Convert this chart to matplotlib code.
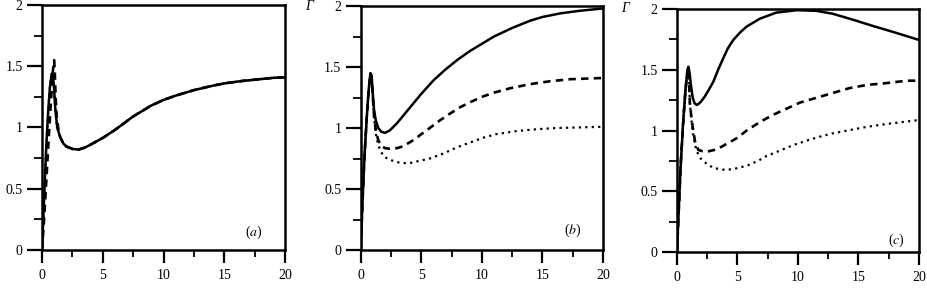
import matplotlib
matplotlib.use('Agg')
import matplotlib.pyplot as plt
from matplotlib.ticker import MultipleLocator

# ── Data ───────────────────────────────────────────────────────────────────────
# panel (a)
a_solid_x = [0, 0.1, 0.2, 0.35, 0.5, 0.65, 0.8, 0.9, 1.0, 1.1, 1.25, 1.5, 1.75, 2.0, 2.5,
             3.0, 3.5, 4.0, 5.0, 6.0, 7.5, 9.0, 10, 11, 12.5, 14, 15, 16.5, 17.5, 19, 20]
a_solid_y = [0, 0.25, 0.5, 0.85, 1.12, 1.33, 1.44, 1.43, 1.3, 1.14, 1.0, 0.92, 0.87, 0.845, 0.825,
             0.82, 0.835, 0.86, 0.915, 0.98, 1.09, 1.18, 1.225, 1.26, 1.305, 1.34, 1.36, 1.38, 1.39, 1.405, 1.41]
a_dash_x = [0, 0.2, 0.4, 0.6, 0.8, 0.9, 1.0, 1.05, 1.12, 1.2, 1.35, 1.5, 1.75, 2.0, 2.5,
            3.0, 3.5, 4.0, 5.0, 6.0, 7.5, 9.0, 10, 11, 12.5, 14, 15, 16.5, 17.5, 19, 20]
a_dash_y = [0, 0.3, 0.65, 1.0, 1.32, 1.47, 1.55, 1.45, 1.25, 1.1, 0.98, 0.92, 0.87, 0.845, 0.825,
            0.82, 0.835, 0.86, 0.915, 0.98, 1.09, 1.18, 1.225, 1.26, 1.305, 1.34, 1.36, 1.38, 1.39, 1.405, 1.41]
a_dot_x = a_solid_x
a_dot_y = a_solid_y

# panel (b)
b_solid_x = [0, 0.15, 0.3, 0.5, 0.65, 0.8, 0.9, 1.0, 1.1, 1.25, 1.45, 1.7, 2.0, 2.4, 3.0, 3.5,
             4.0, 4.5, 5.0, 6.0, 7.0, 8.0, 9.0, 10, 11, 12.5, 14, 15, 16.5, 18, 20]
b_solid_y = [0, 0.4, 0.75, 1.09, 1.3, 1.45, 1.43, 1.28, 1.15, 1.06, 1.0, 0.97, 0.96, 0.98, 1.04, 1.1,
             1.16, 1.22, 1.28, 1.39, 1.48, 1.56, 1.63, 1.69, 1.75, 1.82, 1.88, 1.91, 1.94, 1.96, 1.98]
b_dash_x = [0, 0.15, 0.3, 0.5, 0.65, 0.8, 0.9, 1.0, 1.1, 1.25, 1.45, 1.7, 2.0, 2.4, 3.0, 3.5,
            4.0, 4.5, 5.0, 5.7, 6.5, 7.4, 8.2, 9.0, 10, 11, 12.3, 14, 15.6, 17.3, 20]
b_dash_y = [0, 0.4, 0.75, 1.09, 1.3, 1.45, 1.42, 1.25, 1.1, 0.98, 0.9, 0.855, 0.835, 0.83, 0.835, 0.85,
            0.88, 0.91, 0.95, 1.0, 1.06, 1.12, 1.17, 1.21, 1.255, 1.29, 1.325, 1.36, 1.383, 1.4, 1.41]
b_dot_x = [0, 0.15, 0.3, 0.5, 0.65, 0.8, 0.9, 1.0, 1.1, 1.25, 1.45, 1.7, 2.0, 2.4, 3.0, 3.6,
           4.2, 4.8, 5.7, 6.8, 7.9, 9.0, 10.1, 11.2, 12.9, 14.5, 16.2, 20]
b_dot_y = [0, 0.4, 0.75, 1.09, 1.3, 1.45, 1.42, 1.25, 1.08, 0.95, 0.86, 0.8, 0.76, 0.74, 0.72, 0.712,
           0.715, 0.73, 0.75, 0.79, 0.84, 0.88, 0.92, 0.95, 0.975, 0.99, 1.0, 1.01]

# panel (c)
c_solid_x = [0, 0.15, 0.3, 0.5, 0.7, 0.85, 0.94, 1.05, 1.13, 1.3, 1.45, 1.63, 1.8, 2.0, 2.3, 2.6,
             3.0, 3.4, 3.8, 4.2, 4.65, 5.2, 5.75, 6.85, 8.2, 9.9, 11.5, 12.9, 14.6, 16.2, 17.9, 20]
c_solid_y = [0, 0.35, 0.7, 1.05, 1.33, 1.48, 1.525, 1.47, 1.39, 1.27, 1.225, 1.21, 1.22, 1.24, 1.28, 1.33,
             1.4, 1.5, 1.59, 1.675, 1.745, 1.805, 1.855, 1.92, 1.97, 1.99, 1.985, 1.96, 1.91, 1.86, 1.81, 1.745]
c_dash_x = [0, 0.15, 0.3, 0.5, 0.7, 0.85, 0.94, 1.0, 1.07, 1.2, 1.3, 1.49, 1.76, 2.1, 2.45, 3.3,
            4.1, 4.65, 5.0, 5.76, 6.86, 7.96, 9.07, 10.17, 11.55, 12.92, 14.3, 15.7, 17.3, 19, 20]
c_dash_y = [0, 0.35, 0.7, 1.05, 1.33, 1.48, 1.52, 1.4, 1.22, 1.1, 1.03, 0.91, 0.84, 0.83, 0.825, 0.845,
            0.89, 0.92, 0.94, 1.0, 1.07, 1.13, 1.18, 1.23, 1.27, 1.31, 1.35, 1.375, 1.39, 1.41, 1.41]
c_dot_x = [0, 0.15, 0.3, 0.5, 0.7, 0.85, 0.94, 1.0, 1.07, 1.2, 1.35, 1.55, 1.8, 2.04, 2.6, 3.1,
           3.8, 4.5, 5.2, 5.9, 6.7, 7.4, 8.5, 9.6, 10.7, 11.8, 12.9, 14.3, 15.7, 17.05, 18.4, 20]
c_dot_y = [0, 0.35, 0.7, 1.05, 1.33, 1.48, 1.52, 1.4, 1.22, 1.08, 0.96, 0.86, 0.79, 0.76, 0.715, 0.69,
           0.678, 0.68, 0.695, 0.715, 0.75, 0.79, 0.834, 0.88, 0.916, 0.949, 0.977, 1.004, 1.03, 1.05, 1.067, 1.086]

panels = [
    ('a', a_solid_x, a_solid_y, a_dash_x, a_dash_y, a_dot_x, a_dot_y),
    ('b', b_solid_x, b_solid_y, b_dash_x, b_dash_y, b_dot_x, b_dot_y),
    ('c', c_solid_x, c_solid_y, c_dash_x, c_dash_y, c_dot_x, c_dot_y),
]

# ── Style ──────────────────────────────────────────────────────────────────────
plt.rcParams['font.family'] = ['Liberation Serif', 'DejaVu Serif']
plt.rcParams['mathtext.fontset'] = 'stix'
plt.rcParams['font.size'] = 10

# axes boxes in figure fractions [left, bottom, width, height]
boxes = [
    [0.0453, 0.1379, 0.2618, 0.8449],
    [0.3887, 0.1379, 0.2611, 0.8414],
    [0.7295, 0.1310, 0.2608, 0.8380],
]
label_pos = [(0.872, 0.073), (0.876, 0.082), (0.905, 0.05)]

fig = plt.figure(figsize=(9.28, 2.9), dpi=100)

for i, (name, sx, sy, dx, dy, px, py) in enumerate(panels):
    ax = fig.add_axes(boxes[i])
    ax.plot(px, py, color='black', lw=1.6, linestyle=(0, (1, 1.9)))
    ax.plot(dx, dy, color='black', lw=1.9, linestyle=(0, (2.8, 2.0)))
    ax.plot(sx, sy, color='black', lw=1.8)

    ax.set_xlim(0, 20)
    ax.set_ylim(0, 2)
    ax.xaxis.set_major_locator(MultipleLocator(5))
    ax.xaxis.set_minor_locator(MultipleLocator(2.5))
    ax.yaxis.set_minor_locator(MultipleLocator(0.25))
    ax.set_yticks([0, 0.5, 1, 1.5, 2])
    ax.set_yticklabels(['0', '0.5', '1', '1.5', '2'])

    for s in ax.spines.values():
        s.set_linewidth(1.8)
    ax.tick_params(which='major', direction='out', width=1.6, top=False, right=False)
    ax.tick_params(axis='y', which='major', length=11, pad=3)
    ax.tick_params(axis='y', which='minor', length=6, width=1.3)
    ax.tick_params(axis='x', which='major', length=9, pad=5)
    ax.tick_params(axis='x', which='minor', length=5, width=1.3)

    lx, ly = label_pos[i]
    ax.text(lx, ly, f'(${name}$)', transform=ax.transAxes, ha='center', va='center', fontsize=10)
    if name != 'a':
        ax.text(-0.215, 1.0, 'Γ', style='italic', transform=ax.transAxes,
                ha='center', va='center', fontsize=10)

plt.savefig('out.png', dpi=100, facecolor='white')
plt.close()
